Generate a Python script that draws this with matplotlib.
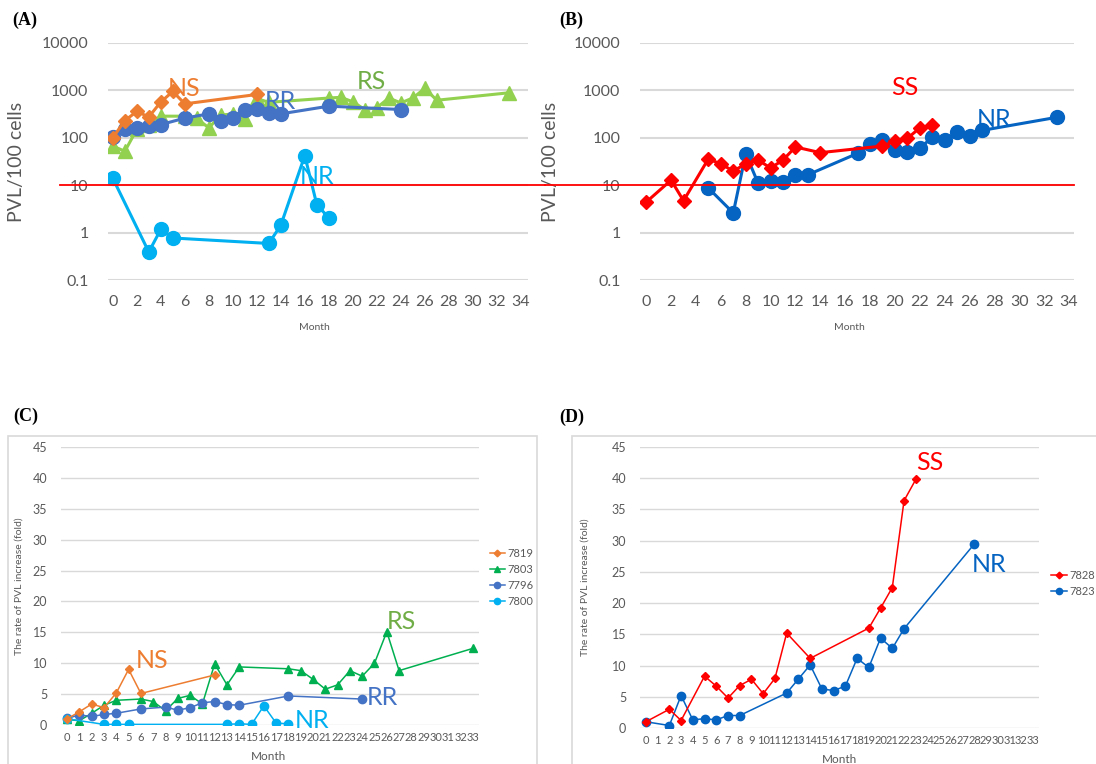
import matplotlib
matplotlib.use('Agg')
import matplotlib.pyplot as plt
from matplotlib.patches import Rectangle

plt.rcParams['font.family'] = ['Lato', 'DejaVu Sans']

# ---------------- Panel A data (PVL/100 cells) ----------------
ns_m = [0, 1, 2, 3, 4, 5, 6, 12]
ns_v = [100, 230, 360, 275, 570, 950, 520, 820]
rr_m = [0, 1, 2, 3, 4, 6, 8, 9, 10, 11, 12, 13, 14, 18, 24]
rr_v = [105, 150, 160, 175, 190, 260, 320, 225, 265, 395, 400, 335, 320, 465, 395]
rs_m = [0, 1, 2, 3, 4, 6, 7, 8, 9, 10, 11, 12, 13, 18, 19, 20, 21, 22, 23, 24, 25, 26, 27, 33]
rs_v = [67, 52, 150, 190, 286, 286, 256, 162, 300, 320, 244, 675, 560, 690, 715, 575, 395, 430,
        690, 545, 690, 1100, 620, 890]
nra_m = [0, 3, 4, 5, 13, 14, 16, 17, 18]
nra_v = [14, 0.39, 1.17, 0.77, 0.59, 1.43, 42, 3.9, 2.04]

# ---------------- Panel B data ----------------
ss_m = [0, 2, 3, 5, 6, 7, 8, 9, 10, 11, 12, 14, 19, 20, 21, 22, 23]
ss_v = [4.4, 12.8, 4.7, 36, 28, 20, 28, 34, 23, 34, 64, 48.6, 67, 85, 97, 162, 185]
nrb_m = [5, 7, 8, 9, 10, 11, 12, 13, 17, 18, 19, 20, 21, 22, 23, 24, 25, 26, 27, 33]
nrb_v = [8.7, 2.6, 46, 11, 12.4, 11.5, 16.6, 16.6, 47, 75, 92, 54, 51, 60, 103, 88, 133, 108, 143, 270]

THRESHOLD = 10
log_ticks = [0.1, 1, 10, 100, 1000, 10000]
log_labels = ['0.1', '1', '10', '100', '1000', '10000']
even_months = list(range(0, 35, 2))

# ---------------- Panel C data (fold) ----------------
c7819_m = [0, 1, 2, 3, 4, 5, 6, 12]
c7819_v = [1.0, 2.15, 3.4, 2.8, 5.2, 9.0, 5.1, 8.1]
c7803_m = [0, 1, 2, 3, 4, 6, 7, 8, 9, 10, 11, 12, 13, 14, 18, 19, 20, 21, 22, 23, 24, 25, 26, 27, 33]
c7803_v = [0.9, 0.7, 1.9, 3.2, 4.0, 4.2, 3.8, 2.3, 4.3, 4.8, 3.4, 9.9, 6.5, 9.4, 9.1, 8.8, 7.4,
           5.8, 6.5, 8.8, 7.9, 10.0, 15.1, 8.8, 12.4]
c7796_m = [0, 1, 2, 3, 4, 6, 8, 9, 10, 11, 12, 13, 14, 18, 24]
c7796_v = [1.1, 1.6, 1.4, 1.7, 1.9, 2.6, 2.9, 2.4, 2.8, 3.6, 3.8, 3.3, 3.2, 4.7, 4.2]
c7800_m = [0, 3, 4, 5, 13, 14, 15, 16, 17, 18]
c7800_v = [1.0, 0.1, 0.1, 0.1, 0.1, 0.2, 0.1, 3.1, 0.3, 0.2]

# ---------------- Panel D data (fold) ----------------
d7828_m = [0, 2, 3, 5, 6, 7, 8, 9, 10, 11, 12, 14, 19, 20, 21, 22, 23]
d7828_v = [1.0, 3.0, 1.2, 8.3, 6.7, 4.8, 6.8, 7.8, 5.5, 7.95, 15.2, 11.15, 16.0, 19.2, 22.5, 36.4, 39.8]
d7823_m = [0, 2, 3, 4, 5, 6, 7, 8, 12, 13, 14, 15, 16, 17, 18, 19, 20, 21, 22, 28]
d7823_v = [1.0, 0.4, 5.2, 1.3, 1.5, 1.3, 2.0, 2.0, 5.6, 7.85, 10.1, 6.25, 6.0, 6.7, 11.15, 9.7,
           14.4, 12.75, 15.9, 29.5]
all_months = list(range(0, 34))
fold_ticks = list(range(0, 50, 5))

ORANGE = '#ED7D31'
BLUE = '#4472C4'
LGREEN = '#92D050'
SKY = '#00B0F0'
RED = '#FF0000'
DBLUE = '#0563C1'
GREEN = '#00B050'
TXT = '#595959'
GRID = '#D9D9D9'
LBL = 18

fig = plt.figure(figsize=(10.96, 7.64), dpi=100)

W, H = 1096, 764


def px_axes(l, r, t, b):
    return fig.add_axes([l / W, 1 - b / H, (r - l) / W, (b - t) / H])


def style_log(ax, xlim):
    ax.set_yscale('log')
    ax.set_ylim(0.1, 10000)
    ax.set_xlim(*xlim)
    ax.set_yticks(log_ticks)
    ax.set_yticklabels(log_labels)
    ax.minorticks_off()
    ax.set_xticks(even_months)
    ax.tick_params(axis='both', length=0, labelsize=11.5, labelcolor=TXT)
    ax.tick_params(axis='y', pad=14)
    ax.tick_params(axis='x', pad=11)
    ax.grid(axis='y', color=GRID, linewidth=1.5)
    ax.set_axisbelow(True)
    for s in ax.spines.values():
        s.set_visible(False)
    ax.set_ylabel('PVL/100 cells', fontsize=14, color=TXT)
    ax.set_xlabel('Month', fontsize=7.5, color=TXT)


# ---------------- Panel A ----------------
axA = px_axes(108, 528, 43, 280)
style_log(axA, (-0.4, 34.6))
axA.plot(rs_m, rs_v, color=LGREEN, lw=2.2, marker='^', ms=10, zorder=3)
axA.plot(rr_m, rr_v, color=BLUE, lw=2.2, marker='o', ms=10, zorder=3)
axA.plot(ns_m, ns_v, color=ORANGE, lw=2.2, marker='D', ms=7, zorder=4)
axA.plot(nra_m, nra_v, color=SKY, lw=2.2, marker='o', ms=10, zorder=3)
axA.axhline(THRESHOLD, xmin=-0.114, xmax=1.04, color=RED, lw=1.3, clip_on=False, zorder=5)
axA.text(4.6, 1100, 'NS', color=ORANGE, fontsize=LBL, ha='left', va='center', zorder=6)
axA.text(12.7, 590, 'RR', color=BLUE, fontsize=LBL, ha='left', va='center', zorder=6)
axA.text(20.3, 1550, 'RS', color='#70AD47', fontsize=LBL, ha='left', va='center', zorder=6)
axA.text(15.6, 15, 'NR', color=SKY, fontsize=LBL, ha='left', va='center', zorder=6)
axA.yaxis.set_label_coords(-0.198, 0.5)
axA.xaxis.set_label_coords(0.492, -0.18)

# ---------------- Panel B ----------------
axB = px_axes(640, 1074, 43, 280)
style_log(axB, (-0.5, 34.4))
axB.plot(nrb_m, nrb_v, color=DBLUE, lw=2.2, marker='o', ms=10, zorder=3)
axB.plot(ss_m, ss_v, color=RED, lw=2.2, marker='D', ms=7, zorder=4)
axB.axhline(THRESHOLD, xmin=-0.219, xmax=1.0, color=RED, lw=1.3, clip_on=False, zorder=5)
axB.text(19.7, 1150, 'SS', color=RED, fontsize=LBL, ha='left', va='center', zorder=6)
axB.text(26.6, 245, 'NR', color=DBLUE, fontsize=LBL, ha='left', va='center', zorder=6)
axB.yaxis.set_label_coords(-0.186, 0.5)
axB.xaxis.set_label_coords(0.483, -0.18)


def style_fold(ax):
    ax.set_ylim(0, 45)
    ax.set_xlim(-0.5, 33.5)
    ax.set_yticks(fold_ticks)
    ax.set_xticks(all_months)
    ax.tick_params(axis='both', length=0, labelcolor=TXT)
    ax.tick_params(axis='y', labelsize=9, pad=10)
    ax.tick_params(axis='x', labelsize=8, pad=5)
    ax.grid(axis='y', color=GRID, linewidth=1.0)
    ax.set_axisbelow(True)
    for s in ax.spines.values():
        s.set_visible(False)
    ax.set_ylabel('The rate of PVL increase (fold)', fontsize=7.5, color=TXT)
    ax.set_xlabel('Month', fontsize=8.5, color=TXT)


# frames of the Excel charts
fig.add_artist(Rectangle((7.6 / W, -0.02), 529 / W, 1 - 436 / H + 0.02, transform=fig.transFigure,
                         fill=False, edgecolor=GRID, lw=1.2))
fig.add_artist(Rectangle((571.6 / W, -0.02), 0.5, 1 - 436 / H + 0.02, transform=fig.transFigure,
                         fill=False, edgecolor=GRID, lw=1.2))

# ---------------- Panel C ----------------
axC = px_axes(61, 479, 447, 725)
style_fold(axC)
axC.plot(c7819_m, c7819_v, color=ORANGE, lw=1.1, marker='D', ms=4.5, label='7819', zorder=4)
axC.plot(c7803_m, c7803_v, color=GREEN, lw=1.1, marker='^', ms=6, label='7803', zorder=3)
axC.plot(c7796_m, c7796_v, color=BLUE, lw=1.1, marker='o', ms=6, label='7796', zorder=3)
axC.plot(c7800_m, c7800_v, color=SKY, lw=1.1, marker='o', ms=6, label='7800', zorder=3)
axC.text(5.6, 10.5, 'NS', color=ORANGE, fontsize=LBL, ha='left', va='center')
axC.text(26.0, 16.7, 'RS', color='#70AD47', fontsize=LBL, ha='left', va='center')
axC.text(24.4, 4.4, 'RR', color=BLUE, fontsize=LBL, ha='left', va='center')
axC.text(18.5, 0.8, 'NR', color=SKY, fontsize=LBL, ha='left', va='center')
axC.yaxis.set_label_coords(-0.0885, 0.5)
axC.xaxis.set_label_coords(0.4976, -0.092)
legC = axC.legend(loc='center left', bbox_to_anchor=(1.015, 0.53), frameon=False, fontsize=8,
                  handlelength=1.4, handletextpad=0.2, labelspacing=0.45, borderaxespad=0,
                  markerscale=0.75)
for t in legC.get_texts():
    t.set_color(TXT)

# ---------------- Panel D ----------------
axD = px_axes(640, 1039, 447, 728)
style_fold(axD)
axD.plot(d7828_m, d7828_v, color=RED, lw=1.1, marker='D', ms=4.5, label='7828', zorder=4)
axD.plot(d7823_m, d7823_v, color=DBLUE, lw=1.1, marker='o', ms=6, label='7823', zorder=3)
axD.text(23.0, 42.5, 'SS', color=RED, fontsize=LBL, ha='left', va='center')
axD.text(27.8, 26.2, 'NR', color=DBLUE, fontsize=LBL, ha='left', va='center')
axD.yaxis.set_label_coords(-0.127, 0.5)
axD.xaxis.set_label_coords(0.499, -0.0915)
legD = axD.legend(loc='center left', bbox_to_anchor=(1.02, 0.513), frameon=False, fontsize=8,
                  handlelength=1.4, handletextpad=0.2, labelspacing=0.45, borderaxespad=0,
                  markerscale=0.75)
for t in legD.get_texts():
    t.set_color(TXT)

# panel letters
for lbl, x, y in [('(A)', 12, 20), ('(B)', 559, 20), ('(C)', 13, 416), ('(D)', 559, 417)]:
    fig.text(x / W, 1 - y / H, lbl, fontsize=13, fontweight='bold', family='Liberation Serif',
             ha='left', va='center')

fig.savefig('out.png', dpi=100)
